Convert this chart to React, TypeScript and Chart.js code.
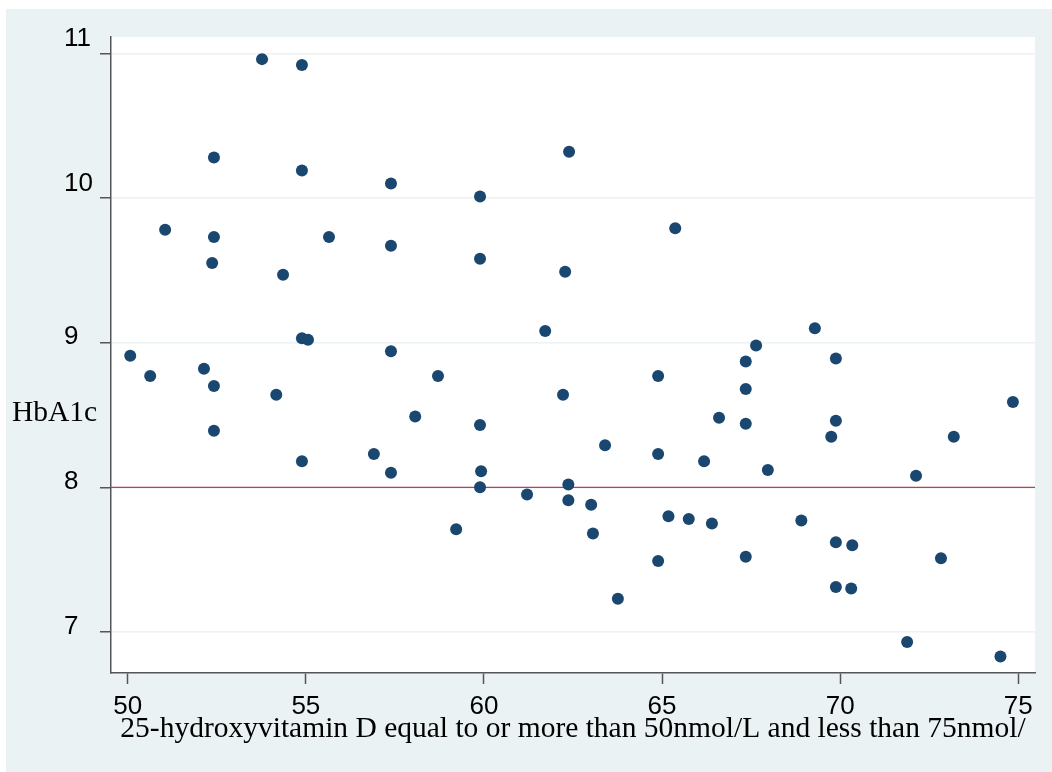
import React, { useEffect, useRef } from 'react';
import { Chart, registerables } from 'chart.js';

Chart.register(...registerables);

// 25-hydroxyvitamin D (x) and HbA1c (y)
const vitaminD = [
  53.77, 54.89, 52.42, 54.89, 57.39, 59.89, 62.39, 51.05, 52.42, 55.65,
  57.39, 59.89, 65.37, 52.37, 54.36, 62.28, 61.72, 54.89, 55.06, 57.39,
  50.07, 50.63, 52.14, 52.42, 54.17, 52.42, 54.89, 58.71, 58.07, 59.89,
  56.91, 57.39, 59.92, 59.89, 62.22, 62.37, 63.40, 64.89, 64.89, 61.21,
  62.37, 63.01, 59.22, 63.06, 64.89, 63.76, 65.18, 65.75, 66.40, 67.35,
  68.91, 69.88, 70.34, 69.88, 70.31, 72.83, 71.88, 74.50, 66.18, 66.60,
  67.35, 67.64, 67.35, 67.35, 67.97, 69.29, 69.88, 69.88, 69.75, 72.13,
  73.19, 74.85,
];
const hba1c = [
  10.96, 10.92, 10.28, 10.19, 10.10, 10.01, 10.32, 9.78, 9.73, 9.73,
  9.67, 9.58, 9.79, 9.55, 9.47, 9.49, 9.08, 9.03, 9.02, 8.94,
  8.91, 8.77, 8.82, 8.70, 8.64, 8.39, 8.18, 8.77, 8.49, 8.43,
  8.23, 8.10, 8.11, 8.00, 8.64, 8.02, 8.29, 8.23, 8.77, 7.95,
  7.91, 7.88, 7.71, 7.68, 7.49, 7.23, 7.80, 7.78, 7.75, 7.52,
  7.77, 7.62, 7.60, 7.31, 7.30, 7.51, 6.93, 6.83, 8.18, 8.48,
  8.87, 8.98, 8.68, 8.44, 8.12, 9.10, 8.89, 8.46, 8.35, 8.08,
  8.35, 8.59,
];
const xTicks = [50, 55, 60, 65, 70, 75];
const yTicks = [7, 8, 9, 10, 11];
const xMin = 49.53;
const xMax = 75.47;
const yMin = 6.716;
const yMax = 11.113;
const threshold = 8;
const xTitle = '25-hydroxyvitamin D equal to or more than 50nmol/L and less than 75nmol/';
const yTitle = 'HbA1c';

const SANS = "'Liberation Sans', Arial, sans-serif";
const SERIF = "'Liberation Serif', 'Times New Roman', serif";
const BG = '#eaf2f3';
const MARKER = '#1a476f';
const AXIS = '#555555';

const stataPlugin = {
  id: 'stataLook',
  beforeDraw(chart: any) {
    const { ctx, chartArea: a, width, height } = chart;
    ctx.save();
    ctx.fillStyle = '#ffffff';
    ctx.fillRect(0, 0, width, height);
    ctx.fillStyle = BG;
    ctx.fillRect(6, 9, width - 6, height - 9);
    ctx.fillStyle = '#ffffff';
    ctx.fillRect(a.left, a.top, a.right - a.left, a.bottom - a.top);
    ctx.restore();
  },
  beforeDatasetsDraw(chart: any) {
    const { ctx, chartArea: a } = chart;
    const y = chart.scales.y.getPixelForValue(threshold);
    ctx.save();
    ctx.strokeStyle = '#c8385e';
    ctx.lineWidth = 1.2;
    ctx.beginPath();
    ctx.moveTo(a.left, y);
    ctx.lineTo(a.right, y);
    ctx.stroke();
    ctx.restore();
  },
  afterDraw(chart: any) {
    const { ctx } = chart;
    ctx.save();
    ctx.fillStyle = '#000000';
    ctx.font = `29.5px ${SERIF}`;
    ctx.textAlign = 'left';
    ctx.textBaseline = 'alphabetic';
    ctx.fillText(yTitle, 12, 421);
    ctx.restore();
  },
};

export default function App() {
  const ref = useRef<HTMLCanvasElement | null>(null);

  useEffect(() => {
    document.body.style.margin = '0';
    const canvas = ref.current;
    if (!canvas) return;
    const points = vitaminD.map((x, i) => ({ x, y: hba1c[i] }));
    const chart = new Chart(canvas, {
      type: 'scatter',
      data: {
        datasets: [
          {
            data: points,
            backgroundColor: MARKER,
            borderColor: MARKER,
            borderWidth: 0,
            pointRadius: 6,
            pointHoverRadius: 6,
          },
        ],
      },
      options: {
        animation: false,
        responsive: false,
        maintainAspectRatio: false,
        layout: { padding: { left: 64, top: 37, right: 17, bottom: 0 } },
        plugins: {
          legend: { display: false },
          tooltip: { enabled: false },
        },
        scales: {
          x: {
            type: 'linear',
            min: xMin,
            max: xMax,
            afterBuildTicks: (scale: any) => {
              scale.ticks = xTicks.map((v) => ({ value: v }));
            },
            afterFit: (scale: any) => {
              scale.height = 99;
            },
            grid: {
              drawOnChartArea: false,
              drawTicks: true,
              tickLength: 11,
              tickColor: AXIS,
              tickWidth: 1.5,
            },
            border: { display: true, color: AXIS, width: 1.5 },
            ticks: {
              font: { family: SANS, size: 26 },
              color: '#000000',
              padding: 7,
              maxRotation: 0,
              autoSkip: false,
              callback: (v: any) => String(v),
            },
            title: {
              display: true,
              text: xTitle,
              font: { family: SERIF, size: 29.5 },
              color: '#000000',
              padding: { top: 0, bottom: 25 },
            },
          },
          y: {
            type: 'linear',
            min: yMin,
            max: yMax,
            afterBuildTicks: (scale: any) => {
              scale.ticks = yTicks.map((v) => ({ value: v }));
            },
            afterFit: (scale: any) => {
              scale.width = 47;
            },
            grid: {
              drawOnChartArea: true,
              color: BG,
              lineWidth: 1.5,
              drawTicks: true,
              tickLength: 11,
              tickColor: AXIS,
              tickWidth: 1.5,
            },
            border: { display: true, color: AXIS, width: 1.5 },
            ticks: {
              font: { family: SANS, size: 26, lineHeight: 0.7 },
              color: '#000000',
              crossAlign: 'far',
              labelOffset: -5.5,
              autoSkip: false,
              callback: (v: any) => (v >= 10 ? [String(v), ''] : String(v)),
            },
          },
        },
      } as any,
      plugins: [stataPlugin],
    });
    return () => chart.destroy();
  }, []);

  return (
    <div style={{ width: 1052, height: 772, position: 'relative' }}>
      <canvas ref={ref} width={1052} height={772} style={{ display: 'block' }} />
    </div>
  );
}
